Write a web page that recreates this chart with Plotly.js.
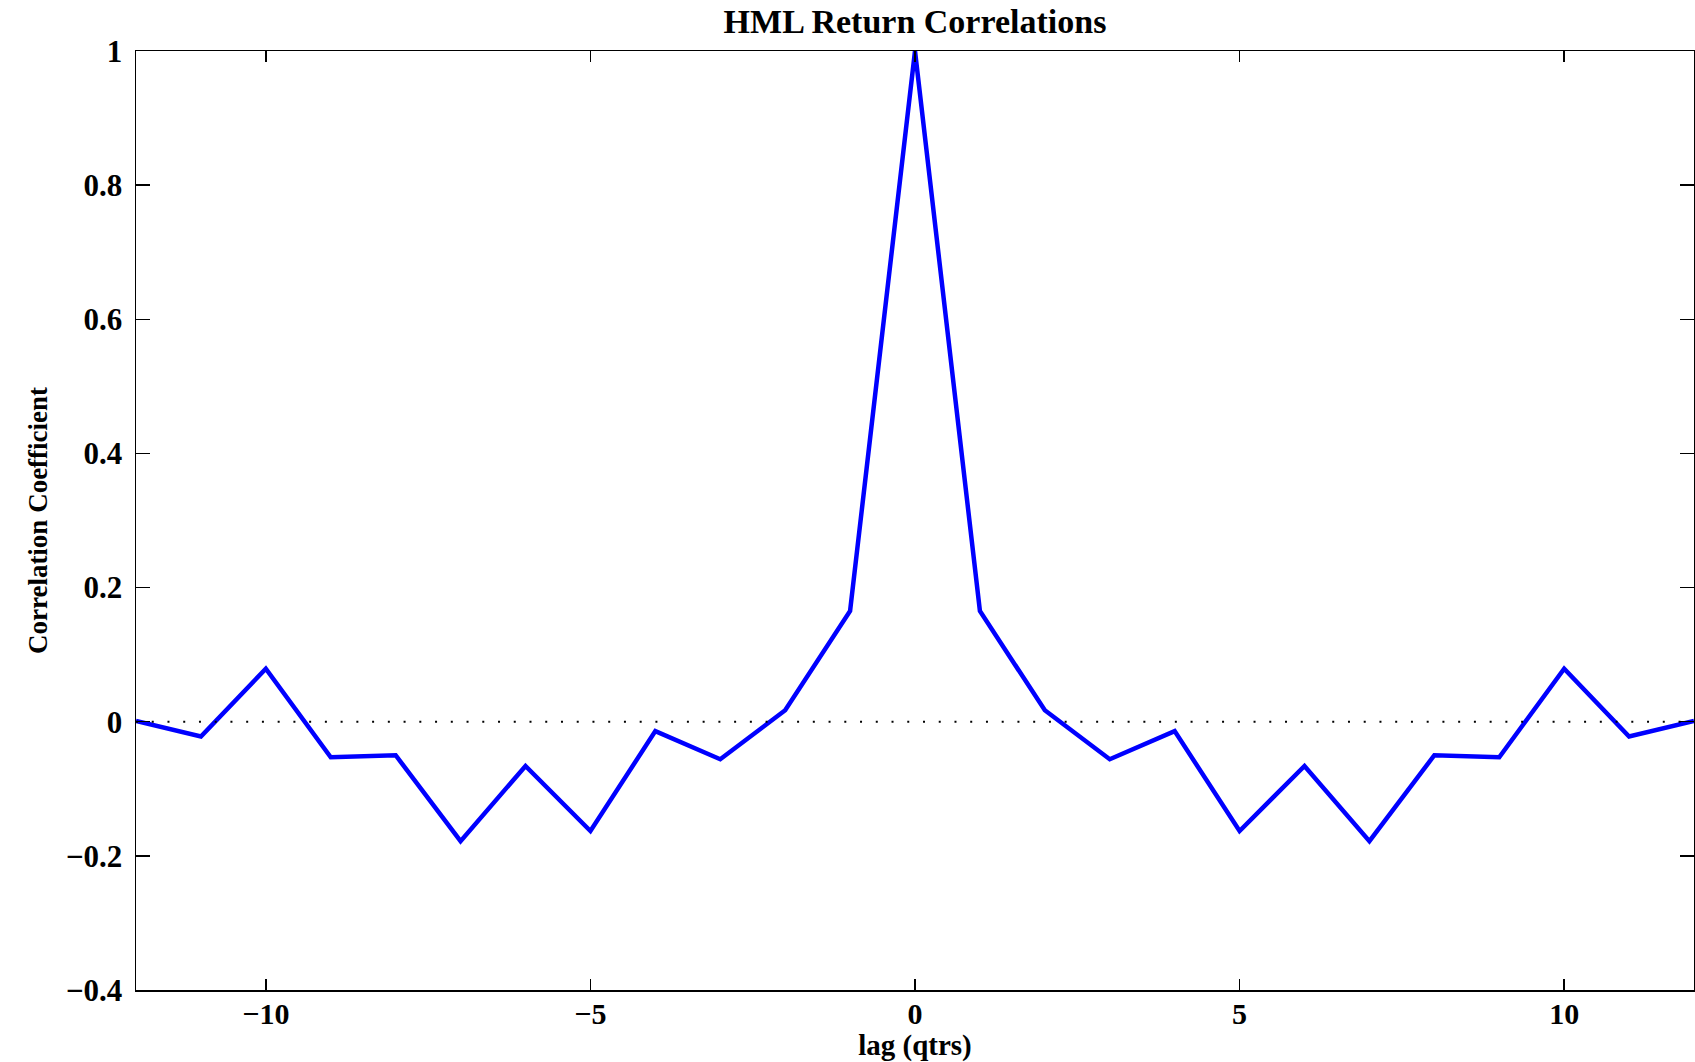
<!DOCTYPE html>
<html>
<head>
<meta charset="utf-8">
<script src="https://cdn.plot.ly/plotly-3.0.1.min.js"></script>
<style>html,body{margin:0;padding:0;background:#fff;}#chart{width:1695px;height:1062px;}</style>
</head>
<body>
<div id="chart"></div>
<script>
// Lags in quarters
const lags = [-12,-11,-10,-9,-8,-7,-6,-5,-4,-3,-2,-1,0,1,2,3,4,5,6,7,8,9,10,11,12];
// HML return correlation coefficients
const correlations = [0.001,-0.022,0.079,-0.053,-0.050,-0.178,-0.066,-0.163,-0.014,-0.056,0.017,0.165,1.0,
                      0.165,0.017,-0.056,-0.014,-0.163,-0.066,-0.178,-0.050,-0.053,0.079,-0.022,0.001];
// Zero reference line
const zeroX = [-12, 12];
const zeroY = [0, 0];
const xTicks = [-10, -5, 0, 5, 10];
const yTicks = [-0.4, -0.2, 0, 0.2, 0.4, 0.6, 0.8, 1];
const yTickText = ['\u22120.4', '\u22120.2', '0', '0.2', '0.4', '0.6', '0.8', '1'];

const serif = 'Liberation Serif, Times New Roman, serif';

const traces = [
  {x: lags, y: correlations, type: 'scatter', mode: 'lines',
   line: {color: '#0000FF', width: 4.5}, hoverinfo: 'skip'},
  {x: zeroX, y: zeroY, type: 'scatter', mode: 'lines',
   line: {color: '#000000', width: 2, dash: '2px,13.74px'}, hoverinfo: 'skip'}
];

const layout = {
  width: 1695, height: 1062,
  margin: {l: 136, r: 1, t: 51, b: 72},
  paper_bgcolor: '#ffffff', plot_bgcolor: '#ffffff',
  showlegend: false,
  title: {text: 'HML Return Correlations', font: {family: serif, size: 34, color: '#000', weight: 'bold'},
          x: 0.5, xref: 'paper', xanchor: 'center', y: 1 - 21/1062, yref: 'container', yanchor: 'middle'},
  xaxis: {
    range: [-12, 12], tickvals: xTicks, ticktext: xTicks.map(v => v < 0 ? '\u2212' + Math.abs(v) : String(v)),
    ticks: 'inside', ticklen: 11, tickwidth: 1.5, tickcolor: '#000',
    showline: true, linecolor: '#000', linewidth: 1.5, mirror: 'ticks',
    showgrid: false, zeroline: false,
    tickfont: {family: serif, size: 30, color: '#000', weight: 'bold'},
    ticklabelstandoff: -4,
    title: {text: 'lag (qtrs)', font: {family: serif, size: 29, color: '#000', weight: 'bold'}, standoff: 19}
  },
  yaxis: {
    range: [-0.4, 1], tickvals: yTicks, ticktext: yTickText,
    ticks: 'inside', ticklen: 14, tickwidth: 1.5, tickcolor: '#000',
    showline: true, linecolor: '#000', linewidth: 1.5, mirror: 'ticks',
    showgrid: false, zeroline: false,
    tickfont: {family: serif, size: 31, color: '#000', weight: 'bold'},
    ticklabelstandoff: 6,
    title: {text: 'Correlation Coefficient', font: {family: serif, size: 27, color: '#000', weight: 'bold'}, standoff: 10}
  }
};

Plotly.newPlot('chart', traces, layout, {staticPlot: true, displayModeBar: false});
</script>
</body>
</html>
